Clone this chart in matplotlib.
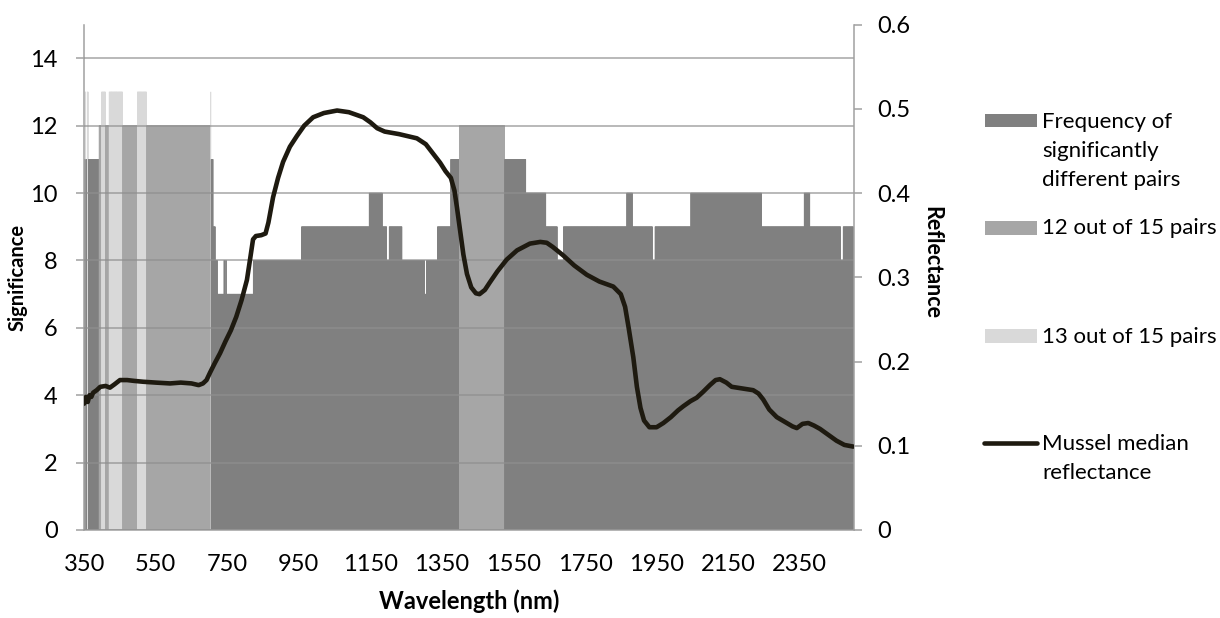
import numpy as np
import matplotlib
matplotlib.use("Agg")
import matplotlib.pyplot as plt
from matplotlib.patches import Rectangle
from matplotlib.lines import Line2D

plt.rcParams['font.family'] = ['Lato', 'DejaVu Sans']

# significance frequency, stored as runs: start wavelength (nm) and value until next start
run_start = [350, 353, 355, 359, 362, 392, 399, 410, 420, 458, 499, 525, 704,
             705, 711, 717, 723, 741, 743, 746, 748, 823, 958, 1147, 1184, 1196,
             1203, 1239, 1302, 1307, 1338, 1375, 1399, 1526, 1585, 1641, 1673,
             1690, 1867, 1883, 1939, 1946, 2046, 2244, 2363, 2379, 2465, 2472]
run_value = [11, 13, 11, 13, 11, 12, 13, 12, 13, 12, 13, 12, 13,
             11, 9, 8, 7, 8, 7, 8, 7, 8, 9, 10, 9, 8,
             9, 8, 7, 8, 9, 11, 12, 11, 10, 9, 8,
             9, 10, 9, 8, 9, 10, 9, 10, 9, 8, 9]
wl_end = 2500

# mussel median reflectance
refl_wl = [350, 355, 360, 365, 370, 375, 385, 395, 410, 422, 435, 450, 470, 490,
           515, 550, 590, 620, 650, 670, 682, 692, 702, 715, 730, 745, 760, 775,
           790, 805, 815, 822, 830, 845, 857, 865, 878, 892, 906, 925, 945, 965,
           990, 1020, 1057, 1090, 1130, 1150, 1169, 1190, 1230, 1280, 1305, 1325,
           1345, 1360, 1375, 1385, 1392, 1401, 1410, 1420, 1432, 1445, 1455, 1470,
           1484, 1505, 1531, 1560, 1596, 1625, 1643, 1660, 1689, 1720, 1755, 1790,
           1829, 1850, 1862, 1872, 1885, 1895, 1905, 1915, 1930, 1950, 1969, 1990,
           2010, 2025, 2045, 2062, 2080, 2099, 2115, 2127, 2145, 2160, 2190, 2220,
           2235, 2248, 2265, 2286, 2310, 2330, 2342, 2358, 2374, 2390, 2407, 2430,
           2453, 2475, 2500]
refl_val = [0.150, 0.158, 0.152, 0.160, 0.158, 0.163, 0.166, 0.170, 0.171, 0.169,
            0.173, 0.178, 0.178, 0.177, 0.176, 0.175, 0.174, 0.175, 0.174, 0.172,
            0.174, 0.178, 0.187, 0.198, 0.210, 0.224, 0.237, 0.253, 0.273, 0.297,
            0.325, 0.345, 0.349, 0.350, 0.352, 0.365, 0.395, 0.418, 0.437, 0.455,
            0.468, 0.480, 0.490, 0.495, 0.498, 0.496, 0.490, 0.484, 0.477, 0.473,
            0.470, 0.465, 0.458, 0.447, 0.436, 0.426, 0.418, 0.403, 0.383, 0.355,
            0.327, 0.304, 0.288, 0.281, 0.280, 0.285, 0.294, 0.307, 0.321, 0.332,
            0.340, 0.342, 0.341, 0.336, 0.326, 0.314, 0.303, 0.295, 0.289, 0.280,
            0.265, 0.240, 0.205, 0.170, 0.145, 0.130, 0.122, 0.122, 0.127, 0.134,
            0.142, 0.147, 0.153, 0.157, 0.164, 0.172, 0.178, 0.179, 0.175, 0.170,
            0.168, 0.166, 0.162, 0.155, 0.143, 0.134, 0.128, 0.123, 0.121, 0.126,
            0.127, 0.124, 0.120, 0.113, 0.106, 0.101, 0.099]

xtick_vals = [350, 550, 750, 950, 1150, 1350, 1550, 1750, 1950, 2150, 2350]

legend_labels = ["Frequency of\nsignificantly\ndifferent pairs", "12 out of 15 pairs",
                 "13 out of 15 pairs", "Mussel median\nreflectance"]

C_DARK, C_MID, C_LIGHT = '#808080', '#A6A6A6', '#D9D9D9'
C_LINE = '#1E1A10'
C_AXIS = '#A0A0A0'

# expand runs into one bar per nm
wl = np.arange(run_start[0], wl_end + 1)
sig = np.repeat(run_value, np.diff(run_start + [wl_end + 1]))
colors = np.where(sig == 13, C_LIGHT, np.where(sig == 12, C_MID, C_DARK))

W, H = 1220, 618
fig = plt.figure(figsize=(W / 100, H / 100), dpi=100)
ax = fig.add_axes([84 / W, 1 - 530 / H, (853.5 - 84) / W, (530 - 24.6) / H])

ax.bar(wl, sig, width=1.0, color=colors, edgecolor=colors, linewidth=0.4,
       snap=False, zorder=1)
ax.set_xlim(349.5, 2500.5)
ax.set_ylim(0, 15)
ax.set_yticks(range(0, 15, 2))
ax.set_xticks(xtick_vals)
ax.yaxis.grid(True, color='#8f8f8f', alpha=0.8, linewidth=1.1, zorder=2)
ax.set_axisbelow(False)
for s in ['top', 'right']:
    ax.spines[s].set_visible(False)
for s in ['left', 'bottom']:
    ax.spines[s].set_color(C_AXIS)
    ax.spines[s].set_linewidth(1.1)
ax.tick_params(axis='y', length=6, color=C_AXIS, width=1.1, pad=13, labelsize=17)
ax.tick_params(axis='x', length=0, pad=17, labelsize=17)

ax2 = ax.twinx()
ax2.plot(refl_wl, refl_val, color=C_LINE, linewidth=3.3, solid_joinstyle='round',
         solid_capstyle='round', zorder=3)
ax2.set_ylim(0, 0.6)
ax2.set_yticks([0, 0.1, 0.2, 0.3, 0.4, 0.5, 0.6])
ax2.yaxis.set_major_formatter(matplotlib.ticker.FuncFormatter(lambda v, p: f"{v:g}"))
for s in ['top', 'left', 'bottom']:
    ax2.spines[s].set_visible(False)
ax2.spines['right'].set_color(C_AXIS)
ax2.spines['right'].set_linewidth(1.1)
ax2.tick_params(axis='y', length=6, color=C_AXIS, width=1.1, pad=11, labelsize=17)

ax.set_xlabel("Wavelength (nm)", fontsize=17, fontweight='bold')
ax.xaxis.set_label_coords(0.5, -0.118)
fig.text(18 / W, 1 - 277 / H, "Significance", rotation=90, ha='center', va='center',
         fontsize=14.5, fontweight='bold')
fig.text(932 / W, 1 - 262 / H, "Reflectance", rotation=270, ha='center', va='center',
         fontsize=15.5, fontweight='bold')


# legend, placed by hand to keep the uneven spacing
def fx(px):
    return px / W


def fy(py):
    return 1 - py / H


for col, top, bot in [(C_DARK, 114, 127), (C_MID, 221, 235), (C_LIGHT, 329, 343)]:
    fig.patches.append(Rectangle((fx(985), fy(bot)), fx(1037) - fx(985), fy(top) - fy(bot),
                                 transform=fig.transFigure, color=col, linewidth=0))
fig.lines.append(Line2D([fx(984), fx(1037)], [fy(443), fy(443)], transform=fig.transFigure,
                        color=C_LINE, linewidth=3.3, solid_capstyle='round'))
# baselines of the last text line of each entry
for lab, base in zip(legend_labels, [185.7, 234.3, 342.7, 479.3]):
    fig.text(fx(1042), fy(base), lab, ha='left', va='baseline', fontsize=16, linespacing=1.55)

fig.savefig("out.png", dpi=100)
